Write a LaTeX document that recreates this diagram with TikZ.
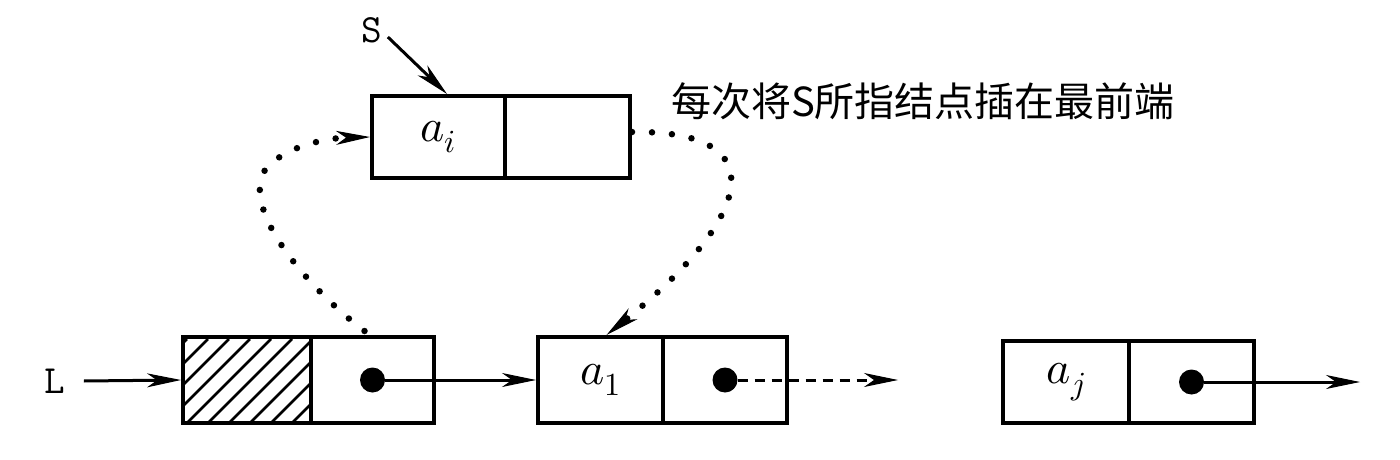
\documentclass[tikz,border=0pt]{standalone}
\usepackage{fontspec}
\usepackage{unicode-math}
\newfontfamily\cjkfont{Noto Sans CJK SC}
\usetikzlibrary{arrows.meta,calc}
\tikzset{
  box/.style={draw, line width=4pt, inner sep=0pt, minimum height=86pt},
  ptr/.style={circle, fill, inner sep=0pt, minimum size=25pt},
  tip/.style={-{Stealth[length=34pt,width=14pt,inset=10pt,line width=1pt]}},
  arr/.style={line width=3pt, tip},
  dotcurve/.style={line width=6.5pt, line cap=round, dash pattern=on 0pt off 20pt, tip},
  lbl/.style={font=\fontsize{46}{50}\selectfont},
  ttlbl/.style={font=\fontsize{40}{42}\selectfont\ttfamily},
  hatch/.style={line width=2.5pt},
}
\begin{document}
\begin{tikzpicture}[x=1pt,y=-1pt]
\useasboundingbox (0,0) rectangle (1400,460);
% top node
\node[box, lbl, minimum width=133pt, minimum height=82pt] (ail) at (438.5,137) {$a_i$};
\node[box, minimum width=125pt, minimum height=82pt] (air) at (567.5,137) {};
% head node
\node[box, minimum width=128pt] (hd) at (247,380) {};
\begin{scope}
  \clip ([xshift=1pt,yshift=1pt]hd.south west) rectangle ([xshift=-1pt,yshift=-1pt]hd.north east);
  \foreach \x in {-80,-59,...,130}
    \draw[hatch] ($(hd.south west)+(\x,0)$) -- ++(86,-86);
\end{scope}
\node[box, minimum width=128pt] at (hd.center) {};
\node[box, minimum width=123pt] (hp) at (372.5,380) {};
% a1 node
\node[box, lbl, minimum width=125pt] (a1l) at (600.5,380) {$a_1$};
\node[box, minimum width=124pt] (a1r) at (725,380) {};
% aj node
\node[box, lbl, minimum width=126pt, minimum height=82pt] (ajl) at (1066,382) {$a_j$};
\node[box, minimum width=125pt, minimum height=82pt] (ajr) at (1191.5,382) {};
% pointer dots
\node[ptr] (d0) at (hp.center) {};
\node[ptr] (d1) at (a1r.center) {};
\node[ptr] (d2) at (ajr.center) {};
% labels
\node[ttlbl] (L) at (55,381) {L};
\node[ttlbl] (S) at (372,30) {S};
\node[font=\cjkfont\fontsize{40}{44}\selectfont] (cap) at (923,101) {每次将S所指结点插在最前端};
% end points
\coordinate (e1) at (898,380);
\coordinate (e2) at (1360,382);
% connectors
\draw[arr] ([xshift=15pt]L.east) -- (hd.west);
\draw[arr] (d0) -- (a1l.west);
\draw[arr, dash pattern=on 10pt off 7pt] (d1) -- (e1);
\draw[arr] (d2) -- (e2);
\draw[arr] ([xshift=2pt,yshift=-7pt]S.east) -- ([xshift=8.5pt]ail.north);
% dotted curves
\draw[dotcurve] ([xshift=-8pt,yshift=4pt]hp.north) .. controls (310,290) and (240,210) .. (265,170)
  .. controls (285,145) and (330,138) .. (ail.west);
\draw[dotcurve] ([yshift=5pt]air.east) .. controls (780,130) and (750,220) .. ([xshift=6pt]a1l.north);
\end{tikzpicture}
\end{document}
